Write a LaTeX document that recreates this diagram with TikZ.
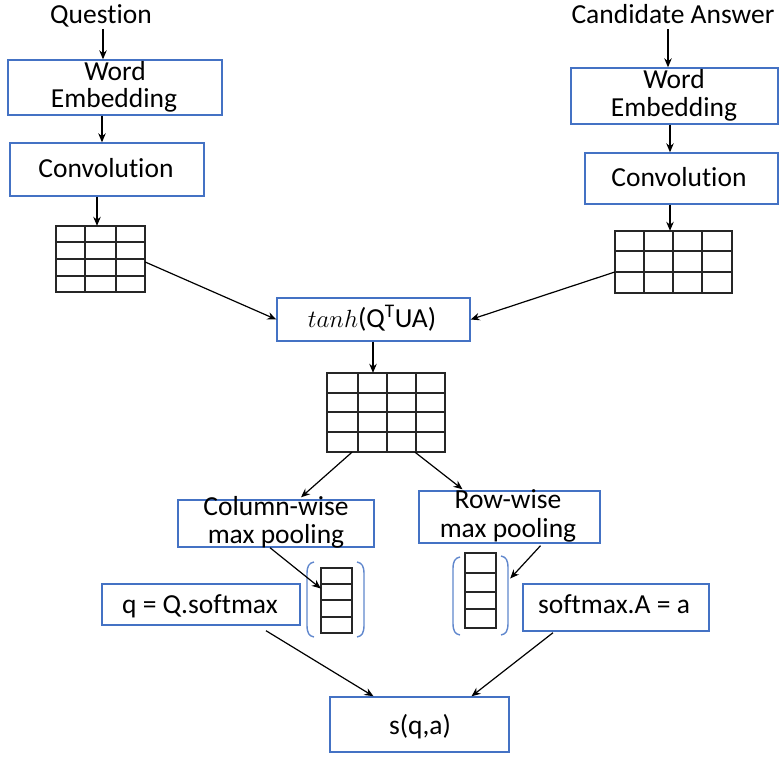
\documentclass[tikz,border=0pt]{standalone}
\usepackage{fontspec}
\setmainfont{Carlito}[Ligatures=NoCommon]
\usetikzlibrary{arrows.meta,fit,calc}
\definecolor{boxblue}{HTML}{4472C4}
\newcommand\mygrid[7]{%
  \node[inner sep=0pt, fit={(#2,#3) (#4,#5)}] (#1) {};
  \foreach \u in {#6} \draw[gridline] (\u,#3) -- (\u,#5);
  \foreach \v in {#7} \draw[gridline] (#2,\v) -- (#4,\v);
  \draw[gridline] (#2,#3) rectangle (#4,#5);
}
\newcommand\myvec[6]{%
  \node[inner sep=0pt, fit={(#2,#3) (#4,#5)}] (#1) {};
  \foreach \v in {#6} \draw[gridline] (#2,\v) -- (#4,\v);
  \draw[gridline] (#2,#3) rectangle (#4,#5);
}
\begin{document}
\begin{tikzpicture}[x=1pt,y=-1pt,
  box/.style={draw=boxblue,line width=1.4pt,inner sep=0pt},
  txt/.style={font=\fontsize{27.5}{28}\selectfont, inner sep=0pt, anchor=base},
  arr/.style={-{Stealth[length=9pt,width=7.5pt]},line width=1.2pt},
  gridline/.style={line width=1.6pt,black!85},
  brk/.style={draw=boxblue!85,line width=1.4pt}]
\useasboundingbox (0,0) rectangle (779,756);

% boxes
\node[box, fit={(8,60) (222,115)}] (we1) {};
\node[box, fit={(10,143) (204,196)}] (cv1) {};
\node[box, fit={(571,68) (778,124)}] (we2) {};
\node[box, fit={(585,153) (778,204)}] (cv2) {};
\node[box, fit={(277,298) (470,341)}] (th) {};
\node[box, fit={(178,500) (374,547)}] (cb) {};
\node[box, fit={(419,491) (600,543)}] (rb) {};
\node[box, fit={(102,584) (300,625)}] (qb) {};
\node[box, fit={(523,584) (709,631)}] (sm) {};
\node[box, fit={(330,697) (509,752)}] (sq) {};

% texts
\node[txt] (qt) at (101,23) {Question};
\node[txt] (ct) at (673,23) {Candidate Answer};
\node[txt] (we1a) at (115,80) {Word};
\node[txt] (we1b) at (114,107) {Embedding};
\node[txt] (cv1t) at (106,177) {Convolution};
\node[txt] (we2a) at (674,88) {Word};
\node[txt] (we2b) at (674,116) {Embedding};
\node[txt] (cv2t) at (679,186) {Convolution};
\node[txt] (tht) at (372,327) {$tanh$(Q\textsuperscript{T}UA)};
\node[txt] (cba) at (276,515) {Column-wise};
\node[txt] (cbb) at (276,543) {max pooling};
\node[txt] (rba) at (508,508) {Row-wise};
\node[txt] (rbb) at (508,537) {max pooling};
\node[txt] (qbt) at (200,613) {q = Q.softmax};
\node[txt] (smt) at (614,613) {softmax.A = a};
\node[txt] (sqt) at (420,734) {s(q,a)};

% grids
\mygrid{gL}{56}{226}{145}{292}{85,116}{242,259,276}
\mygrid{gR}{615}{231}{732}{293}{644,673,702}{251,272}
\mygrid{gM}{327}{373}{445}{452}{358,387,416}{393,412,432}
\myvec{vL}{321}{568}{352}{633}{584,600,617}
\myvec{vR}{465}{553}{496}{628}{573,592,609}

% brackets
\draw[brk] (314,562) .. controls (309,563) and (307,566) .. (307,574) -- (307,625) .. controls (307,633) and (309,636) .. (314,637);
\draw[brk] (357,562) .. controls (362,563) and (364,566) .. (364,574) -- (364,625) .. controls (364,633) and (362,636) .. (357,637);
\draw[brk] (460,557) .. controls (455,558) and (453,561) .. (453,569) -- (453,623) .. controls (453,631) and (455,634) .. (460,635);
\draw[brk] (501,556) .. controls (506,557) and (508,560) .. (508,568) -- (508,623) .. controls (508,631) and (506,634) .. (501,635);
\node[inner sep=0pt, fit={(453,556) (508,635)}] (vRb) {};

% helper x positions
\coordinate (X103) at (103,0);
\coordinate (X102) at (102,0);
\coordinate (X97) at (97,0);
\coordinate (X668) at (668,0);
\coordinate (X670) at (670,0);
\coordinate (X373) at (373,0);

% connectors
\draw[arr, shorten <=2pt] (qt.south -| X103) -- (we1.north -| X103);
\draw[arr] (we1.south -| X102) -- (cv1.north -| X102);
\draw[arr] (cv1.south -| X97) -- (gL.north -| X97);
\draw[arr, shorten <=6pt] (ct.south -| X668) -- (we2.north -| X668);
\draw[arr] (we2.south -| X670) -- (cv2.north -| X670);
\draw[arr] (cv2.south -| X670) -- (gR.north -| X670);
\draw[arr] ([yshift=-3pt]gL.east) -- (th.west);
\draw[arr] ([yshift=-10pt]gR.west) -- (th.east);
\draw[arr] (th.south -| X373) -- (gM.north -| X373);
\draw[arr] ([xshift=-34pt]gM.south) -- ([xshift=25pt,yshift=2pt]cb.north);
\draw[arr] ([xshift=29pt]gM.south) -- ([xshift=-47pt,yshift=1pt]rb.north);
\draw[arr] ([xshift=-6pt]cb.south) -- ([yshift=12pt]vL.west);
\draw[arr] ([xshift=31pt,yshift=-2pt]rb.south) -- ([yshift=17pt,xshift=2pt]vRb.east);
\draw[arr] ([xshift=65pt,yshift=-5pt]qb.south) -- ([xshift=-46pt]sq.north);
\draw[arr] ([xshift=-63pt,yshift=-1pt]sm.south) -- ([xshift=52pt]sq.north);
\end{tikzpicture}
\end{document}
